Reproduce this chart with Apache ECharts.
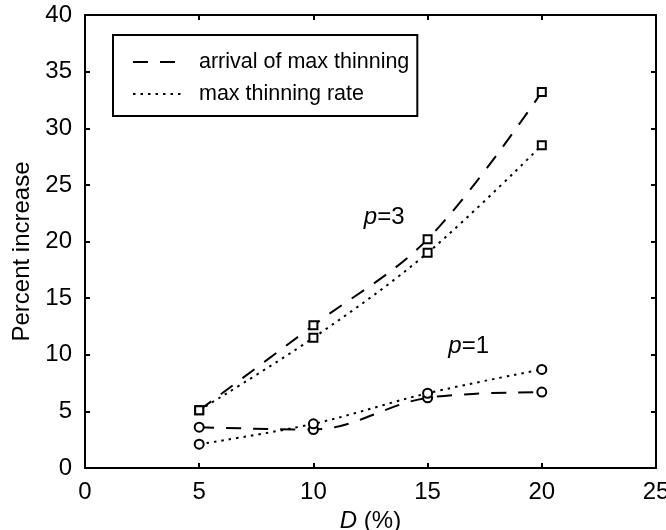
<!DOCTYPE html>
<html>
<head>
<meta charset="utf-8">
<script src="https://cdn.jsdelivr.net/npm/echarts@6/dist/echarts.min.js"></script>
<style>
html,body{margin:0;padding:0;background:#fff;}
#chart{width:666px;height:530px;}
</style>
</head>
<body>
<div id="chart"></div>
<script>
// Data
var xValues = [5, 10, 15, 20];
var p3Arrival = [5.1, 12.6, 20.2, 33.2];
var p3Rate = [5.1, 11.5, 19.0, 28.5];
var p1Arrival = [3.6, 3.4, 6.2, 6.7];
var p1Rate = [2.1, 3.9, 6.6, 8.7];
var seriesNames = ['arrival of max thinning', 'max thinning rate'];
var annotX = [13.1, 16.8];
var annotY = [22.1, 10.7];
var annotP = ['3', '1'];
var xTicks = [0, 5, 10, 15, 20, 25];
var yTicks = [0, 5, 10, 15, 20, 25, 30, 35, 40];

var FONT = 'Liberation Sans, Arial, Helvetica, sans-serif';
var TXT = '#000';
function pairs(ys) { return xValues.map(function (x, i) { return [x, ys[i]]; }); }

var dashed = [15, 12];
var dotted = [2.5, 5];

function lineSeries(name, ys, symbol, dash, size) {
  return {
    type: 'line',
    name: name,
    data: pairs(ys),
    smooth: 0.35,
    symbol: symbol,
    symbolSize: size,
    showAllSymbol: true,
    lineStyle: { color: '#000', width: 2, type: dash },
    itemStyle: { color: '#fff', borderColor: '#000', borderWidth: 2 },
    emphasis: { disabled: true },
    z: 3
  };
}

var chart = echarts.init(document.getElementById('chart'), null, { renderer: 'canvas' });

var axisCommon = {
  type: 'value',
  axisLine: { show: true, onZero: false, lineStyle: { color: '#000', width: 2 } },
  axisTick: { show: true, inside: true, length: 5, lineStyle: { color: '#000', width: 2 } },
  splitLine: { show: false }
};

chart.setOption({
  animation: false,
  backgroundColor: '#fff',
  textStyle: { fontFamily: FONT },
  grid: { left: 85, right: 10, top: 15, bottom: 62, show: false, containLabel: false, outerBoundsMode: 'none' },
  legend: {
    show: true,
    data: seriesNames,
    left: 113,
    top: 35,
    orient: 'vertical',
    itemWidth: 50,
    itemHeight: 14,
    itemGap: 10,
    padding: [16, 8, 11, 19],
    borderColor: '#000',
    borderWidth: 2,
    backgroundColor: '#fff',
    itemStyle: { opacity: 0 },
    selectedMode: false,
    textStyle: { fontFamily: FONT, fontSize: 21.5, color: TXT, padding: [0, 0, 0, 11] }
  },
  xAxis: [
    Object.assign({}, axisCommon, {
      min: 0, max: 25, interval: 5, position: 'bottom',
      name: '{i|D} (%)', nameLocation: 'middle', nameGap: 36,
      nameTextStyle: { fontFamily: FONT, fontSize: 24, color: TXT,
        rich: { i: { fontStyle: 'italic', fontFamily: FONT, fontSize: 24, color: TXT } } },
      axisLabel: { show: true, margin: 12, fontSize: 24, color: TXT, fontFamily: FONT,
        formatter: function (v) { return xTicks.indexOf(v) >= 0 ? String(v) : ''; } }
    }),
    Object.assign({}, axisCommon, {
      min: 0, max: 25, interval: 5, position: 'top',
      axisLabel: { show: false }
    })
  ],
  yAxis: [
    Object.assign({}, axisCommon, {
      min: 0, max: 40, interval: 5, position: 'left',
      name: 'Percent increase', nameLocation: 'middle', nameGap: 50,
      nameTextStyle: { fontFamily: FONT, fontSize: 24, color: TXT, padding: [0, 20, 0, 0] },
      axisLabel: { show: true, margin: 13, fontSize: 24, color: TXT, fontFamily: FONT,
        formatter: function (v) { return yTicks.indexOf(v) >= 0 ? String(v) : ''; } }
    }),
    Object.assign({}, axisCommon, {
      min: 0, max: 40, interval: 5, position: 'right',
      axisLabel: { show: false }
    })
  ],
  series: [
    lineSeries(seriesNames[0], p3Arrival, 'rect', dashed, 8),
    lineSeries(seriesNames[1], p3Rate, 'rect', dotted, 8),
    lineSeries(seriesNames[0], p1Arrival, 'circle', dashed, 9),
    lineSeries(seriesNames[1], p1Rate, 'circle', dotted, 9),
    {
      type: 'scatter',
      name: 'annot',
      symbol: 'circle',
      symbolSize: 1,
      silent: true,
      itemStyle: { color: 'rgba(0,0,0,0)' },
      data: annotX.map(function (x, i) { return { value: [x, annotY[i]], p: annotP[i] }; }),
      label: {
        show: true,
        position: 'inside',
        color: TXT,
        opacity: 1,
        textBorderWidth: 0,
        textBorderColor: 'transparent',
        formatter: function (params) { return '{i|p}{n|=' + params.data.p + '}'; },
        rich: {
          i: { fontStyle: 'italic', fontFamily: FONT, fontSize: 24, color: TXT, textBorderWidth: 0 },
          n: { fontFamily: FONT, fontSize: 24, color: TXT, textBorderWidth: 0 }
        }
      },
      z: 4
    }
  ]
});
</script>
</body>
</html>
